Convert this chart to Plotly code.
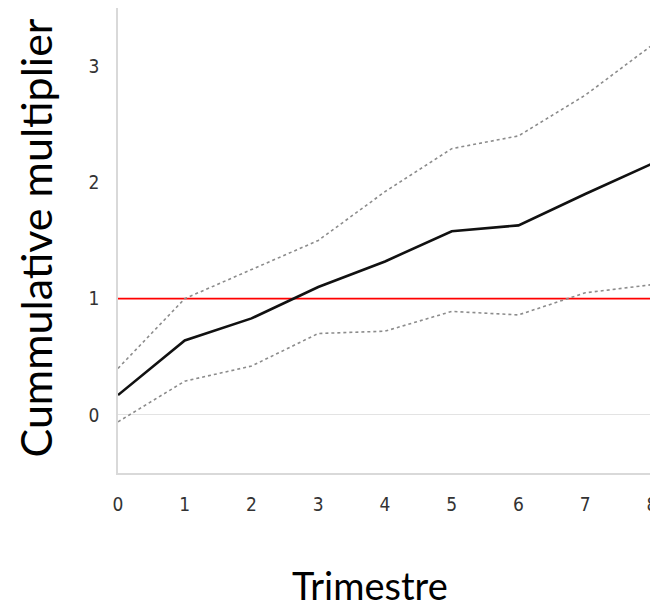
import plotly.graph_objects as go

trimestre = [0, 1, 2, 3, 4, 5, 6, 7, 8]
multiplier = [0.17, 0.64, 0.83, 1.10, 1.32, 1.58, 1.63, 1.90, 2.16]
upper_band = [0.40, 1.00, 1.25, 1.50, 1.92, 2.29, 2.40, 2.75, 3.18]
lower_band = [-0.06, 0.29, 0.42, 0.70, 0.72, 0.89, 0.86, 1.05, 1.12]
reference_level = 1.0
y_ticks = [0, 1, 2, 3]

fig = go.Figure()
fig.add_trace(go.Scatter(x=[trimestre[0], trimestre[-1]], y=[reference_level, reference_level],
                         mode="lines", line=dict(color="#ff0000", width=1.6), hoverinfo="skip"))
fig.add_trace(go.Scatter(x=trimestre, y=upper_band, mode="lines",
                         line=dict(color="#8c8c8c", width=1.6, dash="dot")))
fig.add_trace(go.Scatter(x=trimestre, y=lower_band, mode="lines",
                         line=dict(color="#8c8c8c", width=1.6, dash="dot")))
fig.add_trace(go.Scatter(x=trimestre, y=multiplier, mode="lines",
                         line=dict(color="#111111", width=2.6)))

tick_font = dict(family="DejaVu Sans Condensed", size=19, color="#333333")

fig.update_layout(
    width=650, height=600,
    margin=dict(l=110, r=6, t=0, b=135),
    paper_bgcolor="white", plot_bgcolor="white",
    showlegend=False,
    xaxis=dict(range=[0, 8], tickvals=trimestre, showgrid=False, zeroline=False,
               showline=True, linecolor="#d9d9d9", linewidth=1.5,
               ticks="", ticklabelstandoff=13, tickfont=tick_font),
    yaxis=dict(range=[-0.5, 3.5], tickvals=y_ticks, showgrid=False,
               zeroline=True, zerolinecolor="#e3e3e3", zerolinewidth=1.2,
               showline=True, linecolor="#d9d9d9", linewidth=1.5,
               ticks="", ticklabelstandoff=13, tickfont=tick_font),
    annotations=[
        dict(text="Cummulative multiplier", xref="paper", yref="paper", x=0, y=0.5,
             xanchor="center", yanchor="middle", xshift=-83, yshift=2, textangle=-90,
             showarrow=False, font=dict(family="Lato", size=43, color="#000000")),
        dict(text="Trimestre", xref="paper", yref="paper", x=0.5, y=0,
             xanchor="center", yanchor="middle", xshift=-15, yshift=-112,
             showarrow=False, font=dict(family="Lato", size=38, color="#000000")),
    ],
)

fig.write_html("out.html")
